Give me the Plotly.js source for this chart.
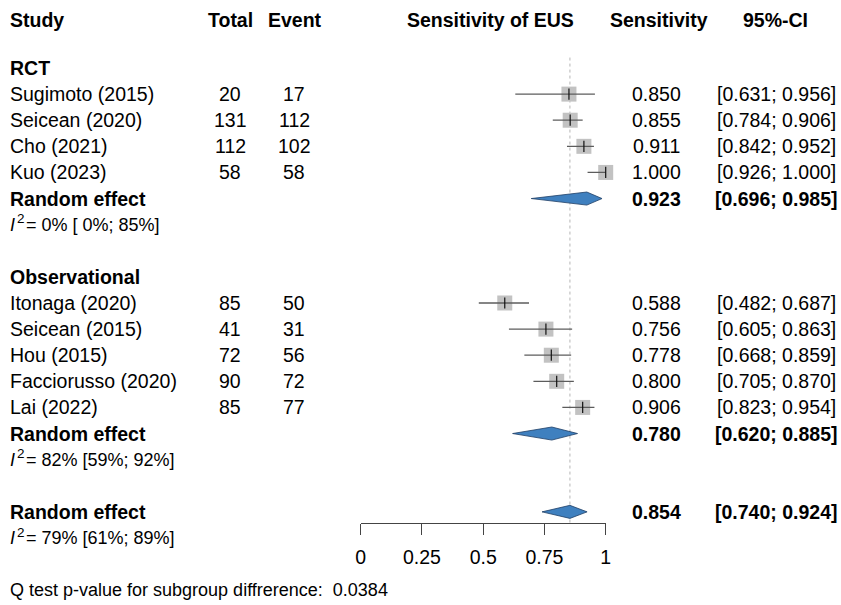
<!DOCTYPE html>
<html>
<head>
<meta charset="utf-8">
<script src="https://cdn.plot.ly/plotly-3.0.1.min.js"></script>
<style>html,body{margin:0;padding:0;background:#fff;}#chart{width:841px;height:605px;}</style>
</head>
<body>
<div id="chart"></div>
<script>
// ---------- data ----------
const rctStudies = ['Sugimoto (2015)', 'Seicean (2020)', 'Cho (2021)', 'Kuo (2023)'];
const rctTotal = [20, 131, 112, 58];
const rctEvent = [17, 112, 102, 58];
const rctSens = [0.850, 0.855, 0.911, 1.000];
const rctLower = [0.631, 0.784, 0.842, 0.926];
const rctUpper = [0.956, 0.906, 0.952, 1.000];
const rctPooled = [0.923, 0.696, 0.985];
const rctI2 = '= 0% [ 0%; 85%]';

const obsStudies = ['Itonaga (2020)', 'Seicean (2015)', 'Hou (2015)', 'Facciorusso (2020)', 'Lai (2022)'];
const obsTotal = [85, 41, 72, 90, 85];
const obsEvent = [50, 31, 56, 72, 77];
const obsSens = [0.588, 0.756, 0.778, 0.800, 0.906];
const obsLower = [0.482, 0.605, 0.668, 0.705, 0.823];
const obsUpper = [0.687, 0.863, 0.859, 0.870, 0.954];
const obsPooled = [0.780, 0.620, 0.885];
const obsI2 = '= 82% [59%; 92%]';

const allPooled = [0.854, 0.740, 0.924];
const allI2 = '= 79% [61%; 89%]';

const tickVals = [0, 0.25, 0.5, 0.75, 1];
const tickText = ['0', '0.25', '0.5', '0.75', '1'];
const qTest = 'Q test p-value for subgroup diffrerence:  0.0384';

// ---------- layout helpers ----------
const W = 841, H = 605;
const ROW0 = 68, ROWH = 26.11;          // pixel of row 0, pixel per row
const yTop = -ROW0 / ROWH, yBot = (H - ROW0) / ROWH;
const px = v => v / W;                   // pixel -> paper x
const FONT = 'Liberation Sans, Arial, sans-serif';
const FS = 19.5;

// rows
const rctHeadRow = 0, rctRows = [1, 2, 3, 4], rctRERow = 5, rctI2Row = 6;
const obsHeadRow = 8, obsRows = [9, 10, 11, 12, 13], obsRERow = 14, obsI2Row = 15;
const allRERow = 17, allI2Row = 18, qRow = 20, headerRow = -1.85;
const axisRow = (523 - ROW0) / ROWH;

const studies = rctStudies.concat(obsStudies);
const totals = rctTotal.concat(obsTotal);
const events = rctEvent.concat(obsEvent);
const sens = rctSens.concat(obsSens);
const lower = rctLower.concat(obsLower);
const upper = rctUpper.concat(obsUpper);
const rows = rctRows.concat(obsRows);

const annotations = [];
function txt(x, row, text, anchor, bold, size, style) {
  annotations.push({
    xref: 'paper', yref: 'y', x: px(x), y: row, text: text,
    xanchor: anchor, yanchor: 'middle', showarrow: false, borderpad: 0,
    font: {family: FONT, size: size || FS, color: '#000',
           weight: bold ? 'bold' : 'normal', style: style || 'normal'}
  });
}
const fmt = v => v.toFixed(3);
const ci = (l, u) => '[' + fmt(l) + '; ' + fmt(u) + ']';

// headers
txt(9, headerRow, 'Study', 'left', true);
txt(230, headerRow, 'Total', 'center', true);
txt(295, headerRow, 'Event', 'center', true);
txt(490, headerRow, 'Sensitivity of EUS', 'center', true);
txt(659, headerRow, 'Sensitivity', 'center', true);
txt(775, headerRow, '95%-CI', 'center', true);

// subgroup labels
txt(9, rctHeadRow, 'RCT', 'left', true);
txt(9, obsHeadRow, 'Observational', 'left', true);

// study rows
studies.forEach((s, i) => {
  txt(9, rows[i], s, 'left', false);
  txt(230, rows[i], String(totals[i]), 'center', false);
  txt(294, rows[i], String(events[i]), 'center', false);
  txt(656, rows[i], fmt(sens[i]), 'center', false);
  txt(776, rows[i], ci(lower[i], upper[i]), 'center', false);
});

// pooled rows
[[rctRERow, rctI2Row, rctPooled, rctI2], [obsRERow, obsI2Row, obsPooled, obsI2], [allRERow, allI2Row, allPooled, allI2]]
  .forEach(([r, ri, p, i2]) => {
    txt(9, r, 'Random effect', 'left', true);
    txt(656, r, fmt(p[0]), 'center', true);
    txt(776, r, ci(p[1], p[2]), 'center', true);
    txt(9, ri, 'I', 'left', false, 18, 'italic');
    txt(16, ri - 0.22, '2', 'left', false, 13.5);
    txt(24.5, ri, i2, 'left', false, 18);
  });

txt(9, qRow, qTest, 'left', false, 18);

// ---------- traces ----------
const traces = [];
// reference line
traces.push({
  x: [allPooled[0], allPooled[0]], y: [-0.4, axisRow], mode: 'lines',
  line: {color: '#b5b5b5', width: 1, dash: 'dot'}, xaxis: 'x2', yaxis: 'y2', hoverinfo: 'skip'
});
// squares
traces.push({
  x: sens, y: rows, mode: 'markers', xaxis: 'x2', yaxis: 'y2', cliponaxis: false,
  marker: {symbol: 'square', size: 15, color: '#c2c2c2', line: {width: 0}}
});
// CI lines
const cx = [], cy = [];
lower.forEach((l, i) => { cx.push(l, upper[i], null); cy.push(rows[i], rows[i], null); });
traces.push({
  x: cx, y: cy, mode: 'lines', xaxis: 'x2', yaxis: 'y2', cliponaxis: false,
  line: {color: '#5c5c5c', width: 1.3}
});
// point ticks
traces.push({
  x: sens, y: rows, mode: 'markers', xaxis: 'x2', yaxis: 'y2', cliponaxis: false,
  marker: {symbol: 'line-ns', size: 8, line: {color: '#111', width: 1.2}}
});
// diamonds
[[rctRERow, rctPooled], [obsRERow, obsPooled], [allRERow, allPooled]].forEach(([r, p]) => {
  traces.push({
    x: [p[1], p[0], p[2], p[0], p[1]], y: [r, r - 0.25, r, r + 0.25, r],
    mode: 'lines', fill: 'toself', fillcolor: '#3f80bf', cliponaxis: false,
    line: {color: '#1f3f66', width: 0.8}, xaxis: 'x2', yaxis: 'y2'
  });
});

const layout = {
  width: W, height: H, margin: {l: 0, r: 0, t: 0, b: 0},
  paper_bgcolor: '#fff', plot_bgcolor: 'rgba(0,0,0,0)', showlegend: false,
  font: {family: FONT, size: FS, color: '#000'},
  xaxis: {domain: [0, 1], range: [0, W], visible: false, fixedrange: true},
  yaxis: {domain: [0, 1], range: [yBot, yTop], visible: false, fixedrange: true},
  xaxis2: {
    domain: [px(360.7), px(605.7)], range: [0, 1], anchor: 'free', position: (H - 523) / H,
    showline: true, linecolor: '#444', linewidth: 1, ticks: 'outside', ticklen: 11, tickcolor: '#444',
    tickwidth: 1, tickvals: tickVals, ticktext: tickText, showgrid: false, zeroline: false,
    ticklabelstandoff: 6,
    tickfont: {family: FONT, size: FS, color: '#000'}, fixedrange: true
  },
  yaxis2: {domain: [0, 1], range: [yBot, yTop], anchor: 'x2', visible: false, fixedrange: true},
  annotations: annotations
};

Plotly.newPlot('chart', traces, layout, {displayModeBar: false, staticPlot: true});
</script>
</body>
</html>
